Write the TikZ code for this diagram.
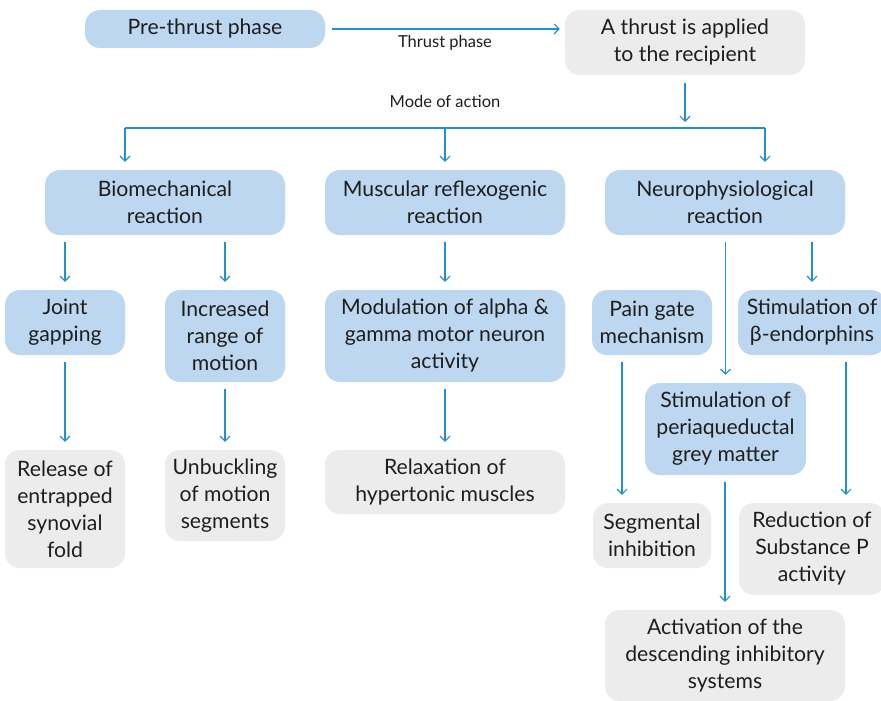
\documentclass[tikz,border=0pt]{standalone}
\usepackage{fontspec}
\setmainfont{Lato}
\usetikzlibrary{arrows.meta}
\definecolor{bfill}{HTML}{BDD7F1}
\definecolor{gfill}{HTML}{ECECEC}
\definecolor{arrc}{HTML}{2290CC}
\definecolor{txt}{HTML}{1E1E1E}
\begin{document}
\begin{tikzpicture}[x=1pt,y=-1pt,
  box/.style={rounded corners=15pt, align=center, inner sep=1pt, text=txt,
    font=\fontsize{21.2}{27}\selectfont},
  bbox/.style={box, fill=bfill},
  gbox/.style={box, fill=gfill},
  arr/.style={draw=arrc, line width=1.1pt, -{Straight Barb[length=5pt,width=10pt]}},
  ln/.style={draw=arrc, line width=1.1pt},
  lab/.style={text=txt, font=\fontsize{16.5}{19}\selectfont}]
\useasboundingbox (0,0) rectangle (881,701);
\fill[white] (0,0) rectangle (881,701);
% top row
\node[bbox, minimum width=240pt, minimum height=38pt] (pre) at (205,29) {Pre-thrust phase};
\node[gbox, minimum width=240pt, minimum height=65pt] (thr) at (685,42.5) {A thrust is applied\\to the recipient};
\draw[arr, shorten <=7pt, shorten >=5pt] (pre.east) -- (pre.east -| thr.west);
\node[lab] (tp) at (445,43) {Thrust phase};
\node[lab] (moa) at (445,101) {Mode of action};
% level 1
\node[bbox, minimum width=240pt, minimum height=65pt] (bio) at (165,202.5) {Biomechanical\\reaction};
\node[bbox, minimum width=240pt, minimum height=65pt] (mus) at (445,202.5) {Muscular reflexogenic\\reaction};
\node[bbox, minimum width=240pt, minimum height=65pt] (neu) at (725,202.5) {Neurophysiological\\reaction};
\coordinate (hb) at (685,128);
\coordinate (hl) at (125,128);
\coordinate (hm) at (445,128);
\coordinate (hr) at (765,128);
\draw[arr, shorten <=8pt, shorten >=6pt] (thr.south) -- (hb);
\draw[ln] (hl) -- (hr);
\draw[arr, shorten >=8pt] (hl) -- (hl |- bio.north);
\draw[arr, shorten >=8pt] (hm) -- (mus.north);
\draw[arr, shorten >=8pt] (hr) -- (hr |- neu.north);
% level 2
\node[bbox, minimum width=120pt, minimum height=65pt] (jg) at (65,322.5) {Joint\\gapping};
\node[bbox, minimum width=120pt, minimum height=92pt] (rom) at (225,336) {Increased\\range of\\motion};
\node[bbox, minimum width=240pt, minimum height=92pt] (mod) at (445,336) {Modulation of alpha \&\\gamma motor neuron\\activity};
\node[bbox, minimum width=120pt, minimum height=65pt] (pg) at (652,322.5) {Pain gate\\mechanism};
\node[bbox, minimum width=148pt, minimum height=65pt] (be) at (812,322.5) {Stimulation of\\β-endorphins};
\node[bbox, minimum width=161pt, minimum height=92pt] (pag) at (725.5,429) {Stimulation of\\periaqueductal\\grey matter};
\draw[arr, shorten <=7pt, shorten >=8pt] (bio.south -| jg.north) -- (jg.north);
\draw[arr, shorten <=7pt, shorten >=8pt] (bio.south -| rom.north) -- (rom.north);
\draw[arr, shorten <=7pt, shorten >=8pt] (mus.south) -- (mod.north);
\draw[arr, shorten <=7pt, shorten >=8pt] (neu.south -| be.north) -- (be.north);
\draw[arr, shorten <=7pt, shorten >=8pt] (neu.south -| pag.north) -- (pag.north);
% level 3
\node[gbox, minimum width=120pt, minimum height=118pt] (rel) at (65,509) {Release of\\entrapped\\synovial\\fold};
\node[gbox, minimum width=120pt, minimum height=91pt] (unb) at (225,495.5) {Unbuckling\\of motion\\segments};
\node[gbox, minimum width=240pt, minimum height=64pt] (rlx) at (445,482) {Relaxation of\\hypertonic muscles};
\node[gbox, minimum width=118pt, minimum height=65pt] (seg) at (652,535.5) {Segmental\\inhibition};
\node[gbox, minimum width=146pt, minimum height=92pt] (red) at (812,549) {Reduction of\\Substance P\\activity};
\node[gbox, minimum width=240pt, minimum height=91pt] (act) at (725,655.5) {Activation of the\\descending inhibitory\\systems};
\draw[arr, shorten <=7pt, shorten >=8pt] (jg.south) -- (rel.north);
\draw[arr, shorten <=7pt, shorten >=8pt] (rom.south) -- (unb.north);
\draw[arr, shorten <=7pt, shorten >=8pt] (mod.south) -- (rlx.north);
\draw[arr, shorten <=7pt, shorten >=8pt] ([xshift=-30pt]pg.south) -- ([xshift=-30pt]pg.south |- seg.north);
\draw[arr, shorten <=7pt, shorten >=8pt] ([xshift=34pt]be.south) -- ([xshift=34pt]be.south |- red.north);
\draw[arr, shorten <=7pt, shorten >=8pt] (pag.south -| act.north) -- (act.north);
\end{tikzpicture}
\end{document}
